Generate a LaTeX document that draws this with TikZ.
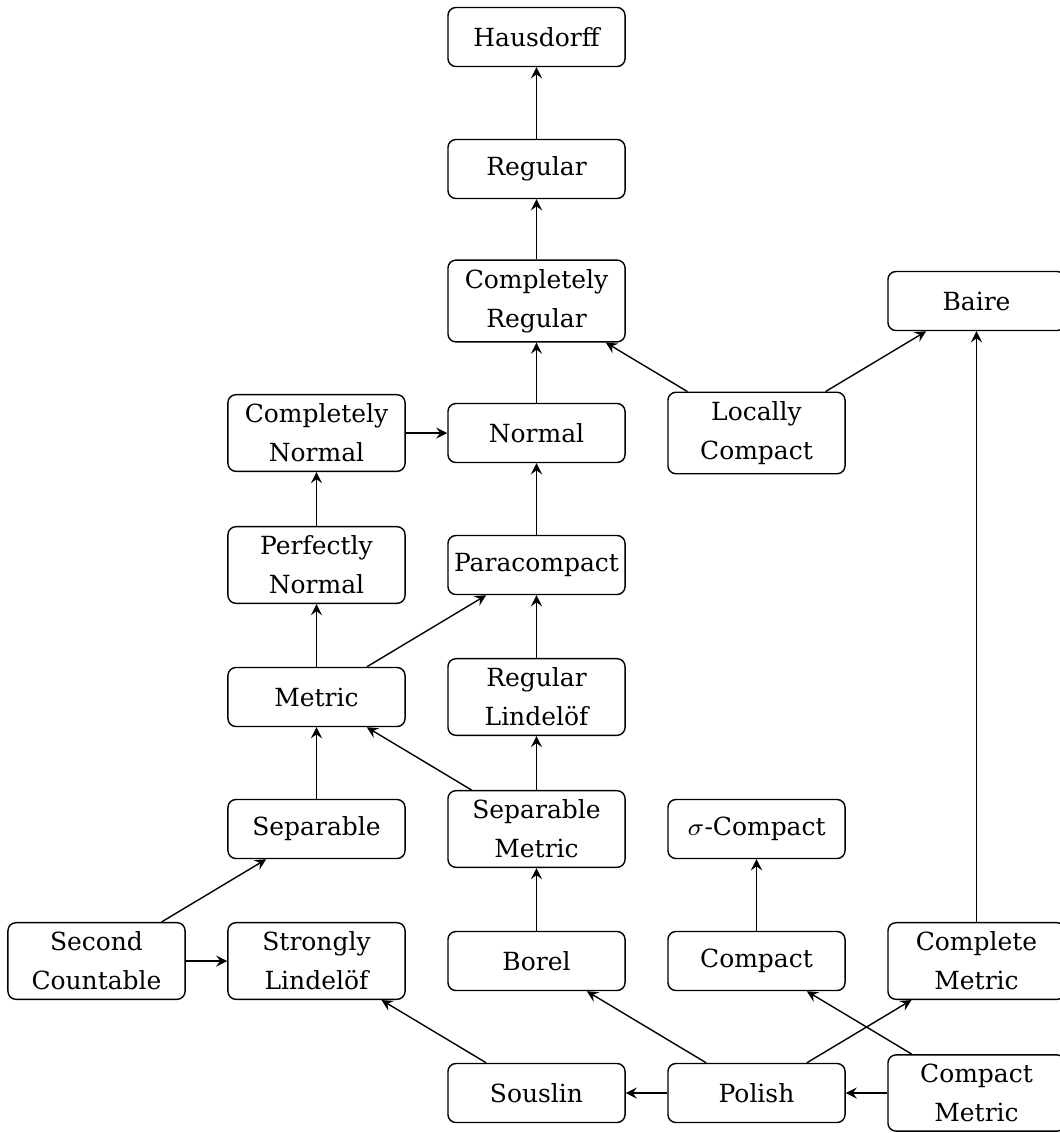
\documentclass[tikz,border=0pt]{standalone}
\usepackage{fontspec}
\setmainfont{DejaVu Serif}
\begin{document}
\begin{tikzpicture}[every node/.style={draw, rounded corners=0.08cm, minimum width=1.77cm, minimum height=0.59cm, inner xsep=1.2pt, inner ysep=2.6pt, align=center, font=\fontsize{7.1}{11.1}\selectfont}, x=0.01cm, y=-0.01cm, >=stealth]
        \useasboundingbox (0, 0) rectangle (1059, 1133);
        \node (1) at (536.5, 37) {Hausdorff};
        \node (2) at (536.5, 169) {Regular};
        \node (3) at (536.5, 301) {Completely\\Regular};
        \node (4) at (976.5, 301) {Baire};
        \node (5) at (316.5, 433) {Completely\\Normal};
        \node (6) at (536.5, 433) {Normal};
        \node (7) at (756.5, 433) {Locally\\Compact};
        \node (8) at (316.5, 565) {Perfectly\\Normal};
        \node (9) at (536.5, 565) {Paracompact};
        \node (10) at (316.5, 697) {Metric};
        \node (11) at (536.5, 697) {Regular\\Lindelöf};
        \node (12) at (316.5, 829) {Separable};
        \node (13) at (536.5, 829) {Separable\\Metric};
        \node (14) at (756.5, 829) {$\sigma$-Compact};
        \node (15) at (96.5, 961) {Second\\Countable};
        \node (16) at (316.5, 961) {Strongly\\Lindelöf};
        \node (17) at (536.5, 961) {Borel};
        \node (18) at (756.5, 961) {Compact};
        \node (19) at (976.5, 961) {Complete\\Metric};
        \node (20) at (536.5, 1093) {Souslin};
        \node (21) at (756.5, 1093) {Polish};
        \node (22) at (976.5, 1093) {Compact\\Metric};
        \draw[->] (2) -- (1);
        \draw[->] (3) -- (2);
        \draw[->] (6) -- (3);
        \draw[->] (7) -- (3);
        \draw[->] (7) -- (4);
        \draw[->] (5) -- (6);
        \draw[->] (9) -- (6);
        \draw[->] (8) -- (5);
        \draw[->] (10) -- (8);
        \draw[->] (10) -- (9);
        \draw[->] (11) -- (9);
        \draw[->] (13) -- (11);
        \draw[->] (13) -- (10);
        \draw[->] (12) -- (10);
        \draw[->] (15) -- (12);
        \draw[->] (15) -- (16);
        \draw[->] (17) -- (13);
        \draw[->] (18) -- (14);
        \draw[->] (19) -- (4);
        \draw[->] (20) -- (16);
        \draw[->] (21) -- (20);
        \draw[->] (21) -- (17);
        \draw[->] (21) -- (19);
        \draw[->] (22) -- (21);
        \draw[->] (22) -- (18);
    \end{tikzpicture}
\end{document}
